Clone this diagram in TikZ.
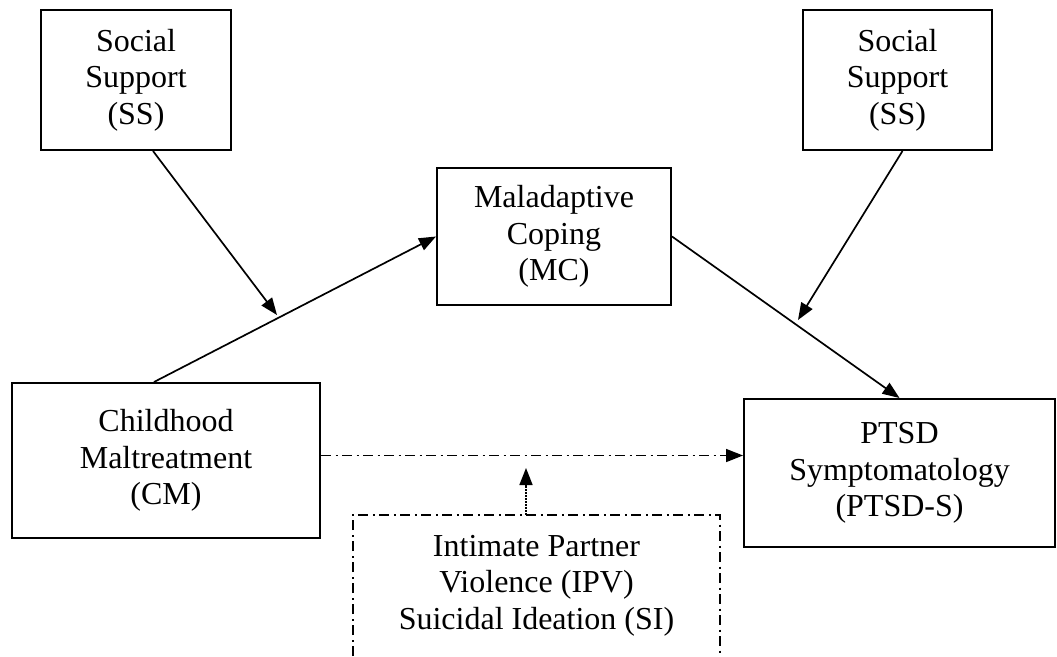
\documentclass[tikz,border=0pt]{standalone}
\usepackage{fontspec}
\setmainfont{Liberation Serif}
\usetikzlibrary{arrows.meta,calc}
\tikzset{
  boxnode/.style={draw=black, line width=2pt, inner sep=0pt, align=center,
    font=\fontsize{32}{36.5}\selectfont},
  ipvnode/.style={inner sep=0pt, align=center, font=\fontsize{32}{36.5}\selectfont},
  solidarrow/.style={line width=1.7pt, -{Triangle[length=17pt,width=13pt]}},
  ddline/.style={line width=1.7pt, dash pattern=on 10pt off 4.5pt on 2pt off 4.5pt},
  ddarrow/.style={ddline, -{Triangle[length=17pt,width=13pt]}},
  dotarrow/.style={line width=1.7pt, dash pattern=on 1.5pt off 1.5pt, -{Triangle[length=17pt,width=13pt]}}
}
\begin{document}
\begin{tikzpicture}[x=1pt,y=-1pt]
\useasboundingbox (0,0) rectangle (1057,656);
\node[boxnode, minimum width=190pt, minimum height=140pt] (ss1) at (136,80) {Social\\Support\\(SS)};
\node[boxnode, minimum width=189pt, minimum height=140pt] (ss2) at (897.5,80) {Social\\Support\\(SS)};
\node[boxnode, minimum width=234pt, minimum height=137pt] (mc) at (554,236.5) {Maladaptive\\Coping\\(MC)};
\node[boxnode, minimum width=308pt, minimum height=155pt] (cm) at (166,460.5) {Childhood\\Maltreatment\\(CM)};
\node[boxnode, minimum width=311pt, minimum height=148pt] (ptsd) at (899.5,473) {PTSD\\Symptomatology\\(PTSD-S)};
\node[ipvnode, minimum width=367pt, minimum height=141pt] (ipv) at (536.5,585.5) {Intimate Partner\\Violence (IPV)\\Suicidal Ideation (SI)};
\draw[ddline] (ipv.south west) -- (ipv.north west) -- (ipv.north east) -- (ipv.south east);
% main paths
\draw[solidarrow] ($(cm.north)+(-12,0)$) -- (mc.west);
\draw[solidarrow] (mc.east) -- (ptsd.north);
% moderators
\coordinate (m1) at (277,315);
\coordinate (m2) at (798,320);
\draw[solidarrow] ($(ss1.south)+(17,0)$) -- (m1);
\draw[solidarrow] ($(ss2.south)+(5,0)$) -- (m2);
% direct path
\coordinate (d1) at ($(cm.east)+(0,-5)$);
\draw[ddarrow] (d1) -- (d1 -| ptsd.west);
\coordinate (m3) at (526,468);
\draw[dotarrow] (m3 |- ipv.north) -- (m3);
\end{tikzpicture}
\end{document}
